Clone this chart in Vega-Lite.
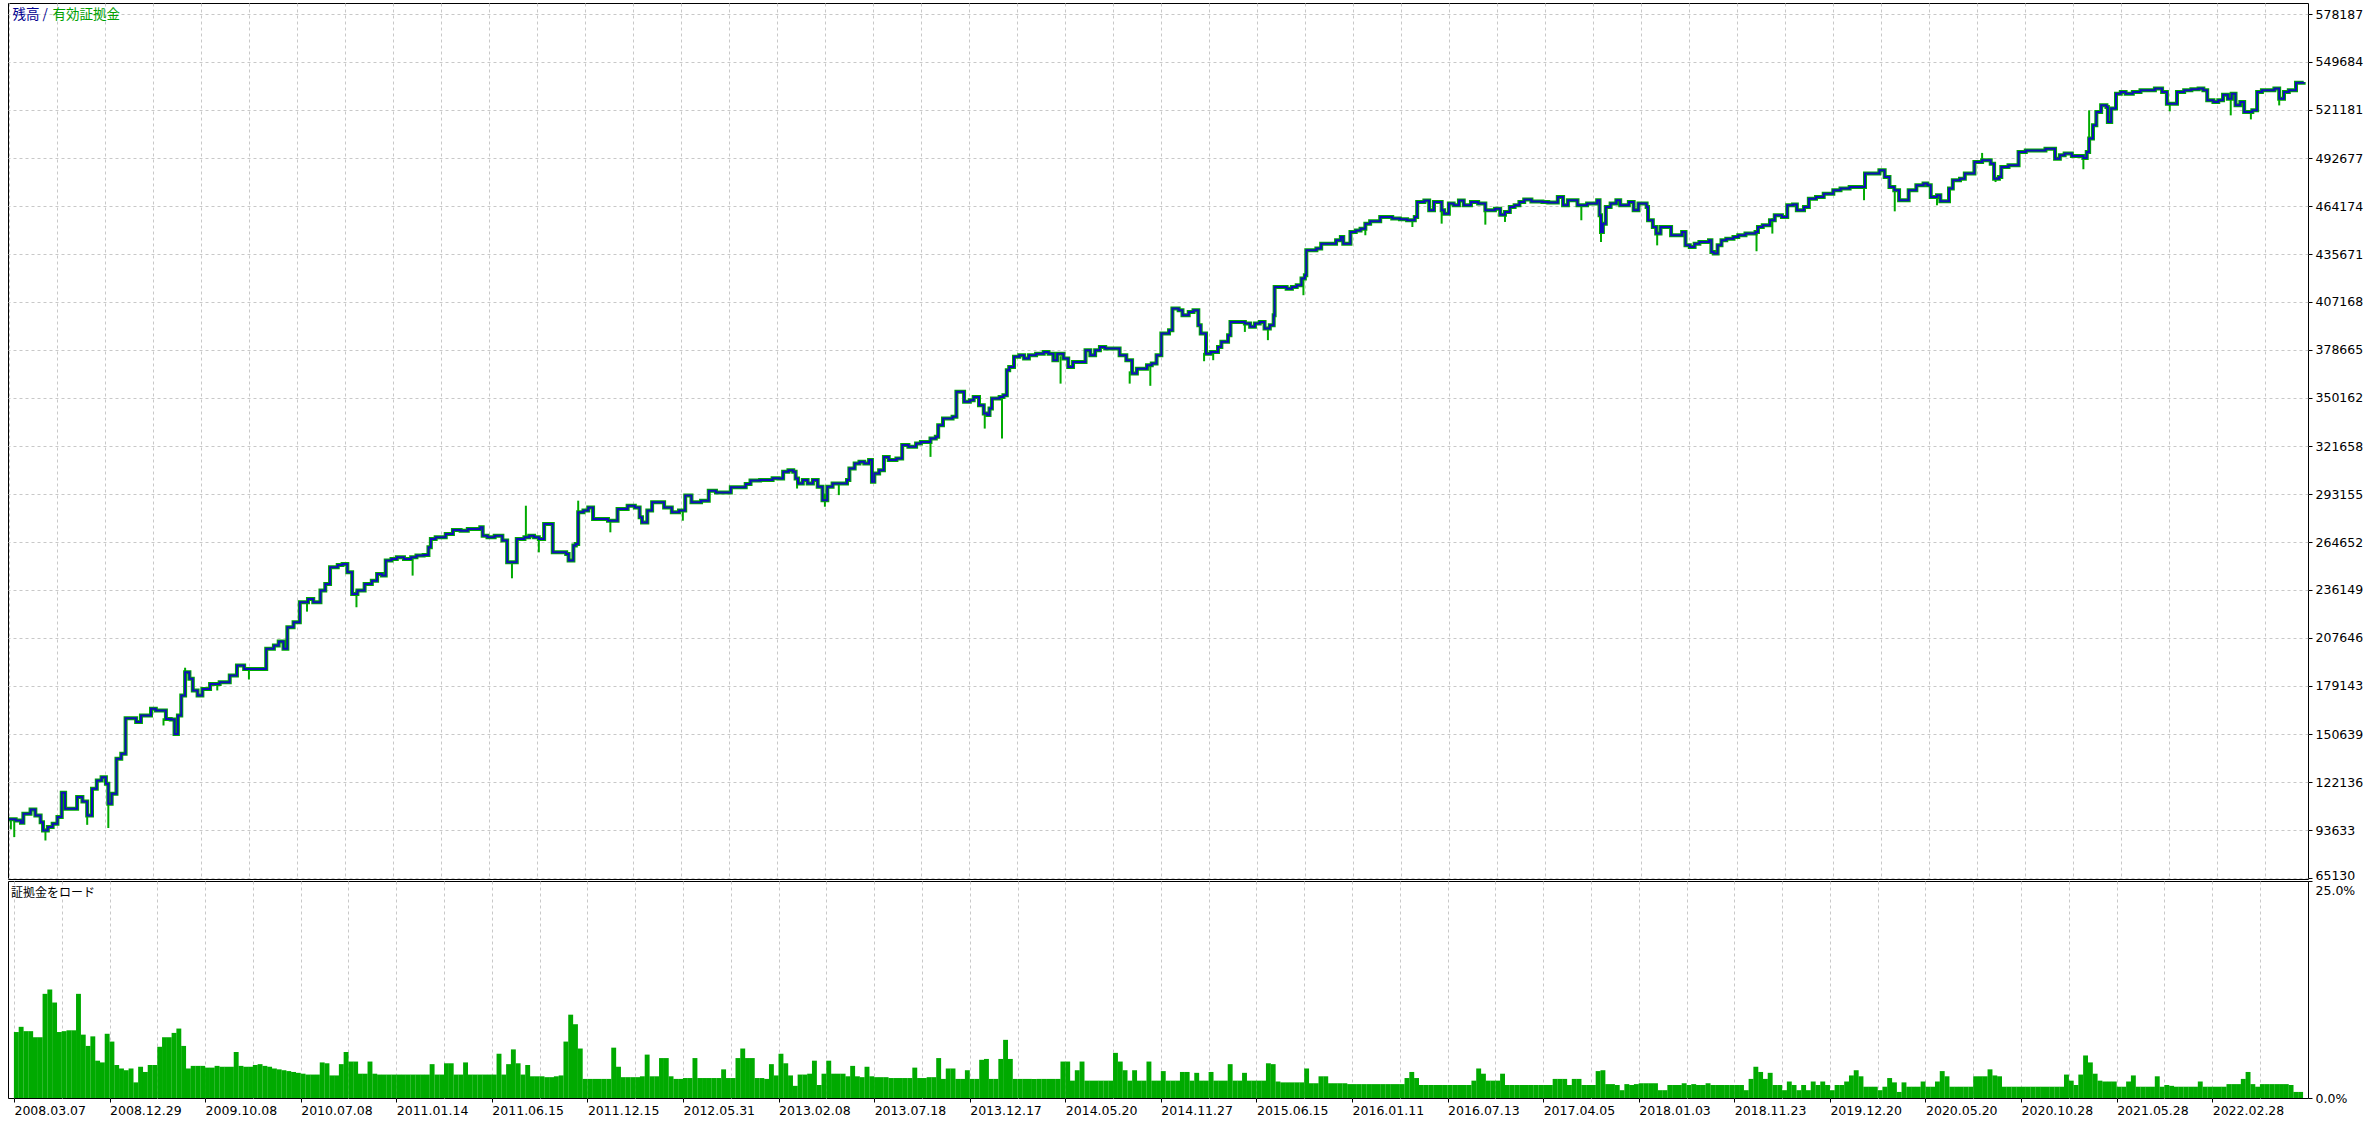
{
"$schema": "https://vega.github.io/schema/vega-lite/v6.json",
"background": "white",
"padding": {"left": 0, "top": 2, "right": 0, "bottom": 0},
"config": {"view": {"stroke": "black", "strokeWidth": 1}, "axis": {"labelFont": "DejaVu Sans", "labelFontSize": 12.5, "labelColor": "black"}},
"datasets": {
"bal": [
{"i":0,"v":100000},{"i":1.4,"v":99300},{"i":2.5,"v":97900},{"i":3.0,"v":103300},{"i":4.5,"v":105800},{"i":5.5,"v":102300},{"i":6.6,"v":98300},{"i":7.1,"v":93400},{"i":8.1,"v":95400},{"i":9.1,"v":97300},{"i":10.1,"v":101300},{"i":11.0,"v":115700},{"i":11.7,"v":106200},{"i":14.2,"v":113200},{"i":15.3,"v":110600},{"i":16.3,"v":102300},{"i":17.3,"v":118100},{"i":18.3,"v":123000},{"i":19.3,"v":125000},{"i":20.2,"v":121100},{"i":20.7,"v":109200},{"i":21.4,"v":115100},{"i":22.4,"v":135900},{"i":23.4,"v":138900},{"i":24.3,"v":160000},{"i":25.5,"v":160000},{"i":26.5,"v":157700},{"i":27.5,"v":161600},{"i":29.6,"v":165600},{"i":30.6,"v":164600},{"i":32.7,"v":159600},{"i":33.7,"v":159200},{"i":34.5,"v":150700},{"i":35.2,"v":161600},{"i":35.9,"v":173500},{"i":36.7,"v":187300},{"i":37.6,"v":183400},{"i":38.3,"v":176500},{"i":39.3,"v":173500},{"i":40.3,"v":177400},{"i":41.9,"v":180400},{"i":43.9,"v":181400},{"i":46.0,"v":185400},{"i":47.5,"v":191300},{"i":49.0,"v":189300},{"i":52.9,"v":189300},{"i":53.6,"v":201200},{"i":55.2,"v":203200},{"i":56.2,"v":205500},{"i":57.2,"v":201200},{"i":58.0,"v":214000},{"i":59.3,"v":217000},{"i":60.6,"v":228900},{"i":62.3,"v":230800},{"i":63.4,"v":228900},{"i":64.9,"v":235800},{"i":65.9,"v":239700},{"i":66.9,"v":249600},{"i":68.5,"v":251000},{"i":69.5,"v":251600},{"i":70.5,"v":246700},{"i":71.5,"v":233800},{"i":72.6,"v":235800},{"i":74.1,"v":239700},{"i":75.6,"v":241700},{"i":76.7,"v":245700},{"i":77.7,"v":244700},{"i":78.5,"v":253600},{"i":79.7,"v":254600},{"i":80.8,"v":255600},{"i":82.3,"v":254600},{"i":83.8,"v":255600},{"i":84.9,"v":256600},{"i":86.4,"v":257000},{"i":87.4,"v":261500},{"i":87.9,"v":266500},{"i":88.9,"v":267400},{"i":91.0,"v":269400},{"i":92.5,"v":271800},{"i":94.1,"v":271400},{"i":95.6,"v":272400},{"i":98.2,"v":273400},{"i":98.7,"v":268400},{"i":99.7,"v":267400},{"i":101.2,"v":268400},{"i":102.8,"v":265500},{"i":103.8,"v":252600},{"i":104.8,"v":252600},{"i":105.8,"v":266500},{"i":107.4,"v":267400},{"i":108.4,"v":268400},{"i":109.4,"v":267400},{"i":110.4,"v":266500},{"i":111.5,"v":275400},{"i":112.5,"v":275400},{"i":113.3,"v":258500},{"i":114.5,"v":258500},{"i":116.1,"v":257500},{"i":116.6,"v":253600},{"i":117.6,"v":262500},{"i":118.1,"v":263500},{"i":118.6,"v":282300},{"i":119.7,"v":283300},{"i":120.7,"v":285200},{"i":121.7,"v":278300},{"i":123.2,"v":278300},{"i":124.8,"v":277300},{"i":126.8,"v":284300},{"i":128.9,"v":286200},{"i":130.4,"v":285200},{"i":131.4,"v":279300},{"i":131.9,"v":276300},{"i":133.0,"v":283300},{"i":134.0,"v":288200},{"i":135.5,"v":288200},{"i":136.5,"v":285200},{"i":138.1,"v":282300},{"i":139.6,"v":283300},{"i":140.9,"v":292200},{"i":142.2,"v":288200},{"i":144.2,"v":289200},{"i":145.8,"v":295100},{"i":147.3,"v":294100},{"i":149.3,"v":294100},{"i":150.4,"v":297100},{"i":152.4,"v":297100},{"i":153.5,"v":299100},{"i":154.5,"v":301100},{"i":156.5,"v":301500},{"i":159.1,"v":302500},
{"i":160.3,"v":302400},{"i":161.3,"v":306300},{"i":162.4,"v":307300},{"i":163.4,"v":306300},{"i":163.9,"v":302400},{"i":164.4,"v":299400},{"i":165.4,"v":301400},{"i":166.4,"v":299400},{"i":167.5,"v":301400},{"i":168.5,"v":297400},{"i":169.5,"v":289500},{"i":170.5,"v":297400},{"i":171.6,"v":299400},{"i":173.6,"v":299400},{"i":174.6,"v":301400},{"i":175.1,"v":308300},{"i":176.2,"v":311300},{"i":177.2,"v":312300},{"i":178.2,"v":311300},{"i":179.2,"v":313300},{"i":179.8,"v":300400},{"i":180.3,"v":305300},{"i":181.3,"v":307300},{"i":182.3,"v":315200},{"i":183.3,"v":313300},{"i":184.9,"v":314200},{"i":186.1,"v":322200},{"i":187.4,"v":321200},{"i":189.0,"v":323100},{"i":190.0,"v":324100},{"i":192.0,"v":326100},{"i":193.1,"v":327100},{"i":193.6,"v":334000},{"i":194.6,"v":338000},{"i":196.6,"v":339000},{"i":197.4,"v":353800},{"i":198.2,"v":353800},{"i":199.0,"v":347900},{"i":200.2,"v":348900},{"i":201.0,"v":350800},{"i":202.1,"v":345900},{"i":203.1,"v":340900},{"i":203.8,"v":340000},{"i":204.3,"v":343900},{"i":204.8,"v":349800},{"i":206.4,"v":350800},{"i":207.2,"v":351800},{"i":207.9,"v":366700},{"i":208.4,"v":368600},{"i":209.4,"v":374600},{"i":210.5,"v":375600},{"i":211.5,"v":373600},{"i":212.5,"v":375600},{"i":214.0,"v":376500},{"i":215.6,"v":377500},{"i":216.6,"v":376500},{"i":217.6,"v":372600},{"i":218.4,"v":376500},{"i":219.7,"v":373600},{"i":220.7,"v":368600},{"i":221.7,"v":371600},{"i":223.3,"v":371600},{"i":224.3,"v":378500},{"i":225.3,"v":375600},{"i":226.3,"v":378500},{"i":227.3,"v":380500},{"i":228.4,"v":379500},{"i":230.4,"v":379500},{"i":231.4,"v":375600},{"i":232.8,"v":372600},{"i":234.0,"v":364700},{"i":235.0,"v":367600},{"i":237.1,"v":369600},{"i":238.1,"v":370600},{"i":239.1,"v":375600},{"i":240.1,"v":388400},{"i":241.7,"v":390400},{"i":242.4,"v":403300},{"i":243.7,"v":402300},{"i":244.5,"v":399300},{"i":245.8,"v":401300},{"i":246.8,"v":402300},{"i":247.8,"v":393400},{"i":248.3,"v":388400},{"i":249.4,"v":376500},{"i":250.4,"v":377500},{"i":251.9,"v":380500},{"i":252.6,"v":383500},{"i":254.0,"v":387400},{"i":254.5,"v":395300},{"i":257.0,"v":395300},{"i":257.5,"v":394400},{"i":258.6,"v":392400},{"i":259.6,"v":394400},{"i":260.6,"v":395300},{"i":261.6,"v":391400},{"i":262.7,"v":393400},{"i":263.5,"v":399300},{"i":263.7,"v":416100},{"i":265.2,"v":416100},{"i":266.2,"v":415100},{"i":267.3,"v":416100},{"i":268.3,"v":417100},{"i":269.3,"v":421100},{"i":270.0,"v":423000},{"i":270.3,"v":437900},{"i":271.4,"v":437900},{"i":272.4,"v":438900},{"i":273.4,"v":441800},{"i":275.4,"v":441800},{"i":276.5,"v":443800},{"i":277.5,"v":445800},{"i":278.0,"v":441800},{"i":279.0,"v":441800},{"i":279.5,"v":448700},{"i":280.6,"v":449700},{"i":281.6,"v":450700},{"i":282.6,"v":453700},{"i":283.6,"v":455100},{"i":285.7,"v":457600},{"i":287.2,"v":457600},{"i":288.2,"v":456700},{"i":289.8,"v":456300},{"i":291.3,"v":455700},{"i":292.9,"v":457600},{"i":293.4,"v":466500},{"i":294.9,"v":467500},{"i":295.9,"v":461600},{"i":296.9,"v":466500},{"i":297.9,"v":466500},{"i":298.5,"v":461600},{"i":299.0,"v":459600},{"i":300.0,"v":465600},{"i":301.0,"v":464600},{"i":302.1,"v":467500},{"i":303.1,"v":464600},{"i":304.6,"v":466500},{"i":306.1,"v":465600},{"i":307.6,"v":461600},{"i":308.6,"v":461600},{"i":309.6,"v":462600},{"i":310.7,"v":459000},{"i":311.7,"v":460600},{"i":312.7,"v":463600},{"i":313.7,"v":464600},{"i":314.7,"v":466500},{"i":315.7,"v":468100},{"i":317.2,"v":466900},{"i":319.5,"v":466500},
{"i":320.7,"v":466200},{"i":322.7,"v":469500},{"i":323.8,"v":464600},{"i":324.8,"v":467600},{"i":326.8,"v":464600},{"i":328.8,"v":465600},{"i":330.9,"v":467600},{"i":331.4,"v":458700},{"i":331.7,"v":448800},{"i":332.1,"v":453700},{"i":332.7,"v":463600},{"i":333.7,"v":465600},{"i":334.9,"v":467600},{"i":335.7,"v":464600},{"i":337.5,"v":466600},{"i":338.5,"v":461600},{"i":339.5,"v":465600},{"i":341.2,"v":463600},{"i":341.5,"v":455700},{"i":342.5,"v":451700},{"i":343.2,"v":447800},{"i":344.1,"v":451700},{"i":345.6,"v":451700},{"i":346.3,"v":446800},{"i":347.6,"v":446800},{"i":348.6,"v":448800},{"i":349.3,"v":440800},{"i":350.2,"v":439800},{"i":351.2,"v":441800},{"i":352.2,"v":442800},{"i":354.2,"v":443800},{"i":354.7,"v":436900},{"i":355.2,"v":435900},{"i":356.0,"v":440800},{"i":356.8,"v":443800},{"i":357.8,"v":444800},{"i":359.3,"v":445800},{"i":360.3,"v":446800},{"i":361.8,"v":447800},{"i":363.9,"v":448800},{"i":364.4,"v":451700},{"i":365.4,"v":452700},{"i":366.9,"v":455700},{"i":367.9,"v":458700},{"i":369.4,"v":457700},{"i":370.5,"v":464600},{"i":371.7,"v":465000},{"i":372.5,"v":461600},{"i":374.0,"v":463600},{"i":375.0,"v":468500},{"i":376.5,"v":469500},{"i":378.1,"v":471500},{"i":380.1,"v":473500},{"i":381.6,"v":474500},{"i":383.5,"v":475500},{"i":385.7,"v":475500},{"i":386.7,"v":483400},{"i":388.2,"v":483400},{"i":389.7,"v":485400},{"i":390.8,"v":481400},{"i":391.8,"v":475500},{"i":392.8,"v":473500},{"i":393.8,"v":467600},{"i":394.8,"v":467600},{"i":395.8,"v":473500},{"i":397.4,"v":476500},{"i":398.9,"v":477500},{"i":399.7,"v":476500},{"i":400.4,"v":469500},{"i":401.7,"v":470500},{"i":402.4,"v":467000},{"i":403.5,"v":467000},{"i":404.2,"v":474500},{"i":405.0,"v":479400},{"i":406.5,"v":480400},{"i":407.5,"v":483400},{"i":408.5,"v":483400},{"i":409.5,"v":490300},{"i":411.1,"v":491300},{"i":412.9,"v":489300},{"i":413.6,"v":480400},{"i":414.6,"v":481400},{"i":415.1,"v":487300},{"i":416.6,"v":488300},{"i":417.7,"v":488300},{"i":418.7,"v":496300},{"i":420.2,"v":497200},{"i":422.2,"v":497200},{"i":424.3,"v":498200},{"i":425.3,"v":498200},{"i":426.3,"v":492300},{"i":427.3,"v":494300},{"i":428.3,"v":495300},{"i":429.8,"v":493900},{"i":432.2,"v":492700},{"i":432.9,"v":496300},{"i":433.4,"v":504200},{"i":434.2,"v":512100},{"i":434.9,"v":520000},{"i":435.9,"v":524000},{"i":437.0,"v":523000},{"i":437.3,"v":514100},{"i":438.0,"v":522000},{"i":439.0,"v":530900},{"i":440.0,"v":531900},{"i":441.0,"v":530900},{"i":442.5,"v":531900},{"i":444.1,"v":532900},{"i":445.6,"v":532900},{"i":447.1,"v":533900},{"i":448.6,"v":531900},{"i":449.6,"v":524900},{"i":451.2,"v":524900},{"i":451.7,"v":531900},{"i":453.2,"v":532900},{"i":454.7,"v":533500},{"i":456.2,"v":533900},{"i":457.2,"v":532900},{"i":458.0,"v":526900},{"i":459.3,"v":525900},{"i":460.3,"v":526900},{"i":461.3,"v":530300},{"i":462.3,"v":527900},{"i":463.1,"v":530900},{"i":463.9,"v":524000},{"i":464.9,"v":525900},{"i":465.7,"v":520000},{"i":466.4,"v":520000},{"i":467.4,"v":521000},{"i":468.4,"v":531900},{"i":469.4,"v":532900},{"i":471.0,"v":532900},{"i":472.0,"v":533900},{"i":473.0,"v":527900},{"i":474.0,"v":531900},{"i":475.0,"v":532900},{"i":476.5,"v":537400},{"i":478.1,"v":537800}
],
"spk": [
{"i":0.4,"e":94000,"b":100000},{"i":1.1,"e":89400,"b":99800},{"i":7.6,"e":87400,"b":94400},{"i":16.3,"e":96700,"b":102300},{"i":20.7,"e":94800,"b":109200},{"i":32.2,"e":155700,"b":160000},{"i":36.7,"e":190000,"b":187300},{"i":43.4,"e":176500,"b":181400},{"i":50.0,"e":183000,"b":189300},{"i":62.1,"e":223300,"b":230800},{"i":72.4,"e":225900,"b":235800},{"i":84.1,"e":244700,"b":255600},{"i":104.8,"e":243100,"b":252600},{"i":107.7,"e":286200,"b":267400},{"i":110.4,"e":258500,"b":266500},{"i":118.6,"e":289200,"b":282300},{"i":125.3,"e":270400,"b":277300},{"i":140.4,"e":277300,"b":283300},{"i":164.2,"e":296400,"b":302400},{"i":170.0,"e":285600,"b":293400},{"i":172.9,"e":292500,"b":299400},{"i":192.0,"e":315200,"b":326100},{"i":203.3,"e":332000,"b":340900},{"i":206.9,"e":326100,"b":351300},{"i":219.1,"e":358700,"b":375000},{"i":233.5,"e":358700,"b":366000},{"i":237.8,"e":357400,"b":370600},{"i":249.0,"e":372000,"b":377000},{"i":250.9,"e":372600,"b":378000},{"i":257.5,"e":389400,"b":394400},{"i":262.3,"e":384500,"b":392400},{"i":269.7,"e":411200,"b":422000},{"i":282.6,"e":446800,"b":453700},{"i":292.4,"e":451700,"b":456500},{"i":298.5,"e":453700,"b":461600},{"i":307.6,"e":453100,"b":461600},{"i":311.7,"e":454700,"b":460600},{"i":327.6,"e":455700,"b":465000},{"i":331.7,"e":442800,"b":448800},{"i":343.4,"e":440800,"b":449000},{"i":364.1,"e":437300,"b":449000},{"i":367.4,"e":447800,"b":457000},{"i":386.5,"e":467600,"b":479000},{"i":392.9,"e":461000,"b":473500},{"i":401.7,"e":464600,"b":470500},{"i":411.1,"e":495700,"b":491300},{"i":413.9,"e":478400,"b":481000},{"i":432.2,"e":486000,"b":492700},{"i":433.4,"e":521000,"b":504200},{"i":450.2,"e":520400,"b":524900},{"i":462.9,"e":518000,"b":529000},{"i":467.1,"e":515600,"b":521000},{"i":473.0,"e":523900,"b":527900}
],
"mrg": [
{"i":0,"m":7.6},{"i":1,"m":8.2},{"i":2,"m":7.7},{"i":3,"m":7.7},{"i":4,"m":7.0},{"i":5,"m":7.0},{"i":6,"m":12.0},{"i":7,"m":12.5},{"i":8,"m":11.0},{"i":9,"m":7.6},
{"i":10,"m":7.7},{"i":11,"m":7.8},{"i":12,"m":7.8},{"i":13,"m":12.0},{"i":14,"m":7.3},{"i":15,"m":6.0},{"i":16,"m":7.1},{"i":17,"m":4.3},{"i":18,"m":4.1},{"i":19,"m":7.4},
{"i":20,"m":6.5},{"i":21,"m":3.8},{"i":22,"m":3.4},{"i":23,"m":3.2},{"i":24,"m":3.4},{"i":25,"m":1.8},{"i":26,"m":3.6},{"i":27,"m":3.0},{"i":28,"m":3.8},{"i":29,"m":3.8},
{"i":30,"m":5.9},{"i":31,"m":7.0},{"i":32,"m":7.0},{"i":33,"m":7.5},{"i":34,"m":8.0},{"i":35,"m":6.0},{"i":36,"m":3.4},{"i":37,"m":3.7},{"i":38,"m":3.7},{"i":39,"m":3.7},
{"i":40,"m":3.5},{"i":41,"m":3.5},{"i":42,"m":3.7},{"i":43,"m":3.6},{"i":44,"m":3.6},{"i":45,"m":3.6},{"i":46,"m":5.3},{"i":47,"m":3.7},{"i":48,"m":3.6},{"i":49,"m":3.6},
{"i":50,"m":3.8},{"i":51,"m":3.9},{"i":52,"m":3.7},{"i":53,"m":3.6},{"i":54,"m":3.4},{"i":55,"m":3.3},{"i":56,"m":3.2},{"i":57,"m":3.1},{"i":58,"m":3.0},{"i":59,"m":2.9},
{"i":60,"m":2.8},{"i":61,"m":2.7},{"i":62,"m":2.7},{"i":63,"m":2.7},{"i":64,"m":4.1},{"i":65,"m":4.0},{"i":66,"m":2.6},{"i":67,"m":2.6},{"i":68,"m":3.9},{"i":69,"m":5.3},
{"i":70,"m":4.2},{"i":71,"m":4.2},{"i":72,"m":2.8},{"i":73,"m":2.8},{"i":74,"m":4.2},{"i":75,"m":2.8},{"i":76,"m":2.7},{"i":77,"m":2.7},{"i":78,"m":2.7},{"i":79,"m":2.7},
{"i":80,"m":2.7},{"i":81,"m":2.7},{"i":82,"m":2.7},{"i":83,"m":2.7},{"i":84,"m":2.7},{"i":85,"m":2.7},{"i":86,"m":2.7},{"i":87,"m":3.9},{"i":88,"m":2.7},{"i":89,"m":2.7},
{"i":90,"m":4.0},{"i":91,"m":4.0},{"i":92,"m":2.7},{"i":93,"m":2.7},{"i":94,"m":4.1},{"i":95,"m":2.7},{"i":96,"m":2.7},{"i":97,"m":2.7},{"i":98,"m":2.7},{"i":99,"m":2.7},
{"i":100,"m":2.7},{"i":101,"m":5.1},{"i":102,"m":2.7},{"i":103,"m":3.9},{"i":104,"m":5.6},{"i":105,"m":4.0},{"i":106,"m":2.7},{"i":107,"m":3.8},{"i":108,"m":2.5},{"i":109,"m":2.5},
{"i":110,"m":2.5},{"i":111,"m":2.4},{"i":112,"m":2.4},{"i":113,"m":2.5},{"i":114,"m":2.6},{"i":115,"m":6.5},{"i":116,"m":9.6},{"i":117,"m":8.5},{"i":118,"m":5.7},{"i":119,"m":2.2},
{"i":120,"m":2.2},{"i":121,"m":2.2},{"i":122,"m":2.2},{"i":123,"m":2.2},{"i":124,"m":2.2},{"i":125,"m":5.8},{"i":126,"m":3.6},{"i":127,"m":2.4},{"i":128,"m":2.4},{"i":129,"m":2.4},
{"i":130,"m":2.4},{"i":131,"m":2.5},{"i":132,"m":5.0},{"i":133,"m":2.5},{"i":134,"m":2.5},{"i":135,"m":4.6},{"i":136,"m":4.6},{"i":137,"m":2.5},{"i":138,"m":2.2},{"i":139,"m":2.2},
{"i":140,"m":2.3},{"i":141,"m":2.3},{"i":142,"m":4.6},{"i":143,"m":2.3},{"i":144,"m":2.3},{"i":145,"m":2.3},{"i":146,"m":2.3},{"i":147,"m":2.3},{"i":148,"m":3.3},{"i":149,"m":2.3},
{"i":150,"m":2.3},{"i":151,"m":4.6},{"i":152,"m":5.7},{"i":153,"m":4.6},{"i":154,"m":4.6},{"i":155,"m":2.3},{"i":156,"m":2.3},{"i":157,"m":2.2},{"i":158,"m":3.9},{"i":159,"m":2.6},
{"i":160,"m":5.1},{"i":161,"m":4.0},{"i":162,"m":2.6},{"i":163,"m":1.4},{"i":164,"m":2.7},{"i":165,"m":2.7},{"i":166,"m":2.8},{"i":167,"m":4.3},{"i":168,"m":1.5},{"i":169,"m":2.8},
{"i":170,"m":4.3},{"i":171,"m":2.8},{"i":172,"m":2.8},{"i":173,"m":2.8},{"i":174,"m":2.5},{"i":175,"m":3.7},{"i":176,"m":2.5},{"i":177,"m":2.4},{"i":178,"m":3.6},{"i":179,"m":2.5},
{"i":180,"m":2.4},{"i":181,"m":2.4},{"i":182,"m":2.4},{"i":183,"m":2.3},{"i":184,"m":2.3},{"i":185,"m":2.3},{"i":186,"m":2.3},{"i":187,"m":2.3},{"i":188,"m":3.5},{"i":189,"m":2.3},
{"i":190,"m":2.3},{"i":191,"m":2.4},{"i":192,"m":2.4},{"i":193,"m":4.6},{"i":194,"m":2.2},{"i":195,"m":3.4},{"i":196,"m":3.4},{"i":197,"m":2.2},{"i":198,"m":2.2},{"i":199,"m":3.2},
{"i":200,"m":2.2},{"i":201,"m":2.2},{"i":202,"m":4.4},{"i":203,"m":4.5},{"i":204,"m":2.2},{"i":205,"m":2.2},{"i":206,"m":4.5},{"i":207,"m":6.7},{"i":208,"m":4.5},{"i":209,"m":2.2},
{"i":210,"m":2.2},{"i":211,"m":2.2},{"i":212,"m":2.2},{"i":213,"m":2.2},{"i":214,"m":2.2},{"i":215,"m":2.2},{"i":216,"m":2.2},{"i":217,"m":2.2},{"i":218,"m":2.2},{"i":219,"m":4.2},
{"i":220,"m":4.2},{"i":221,"m":2.0},{"i":222,"m":3.2},{"i":223,"m":4.2},{"i":224,"m":2.0},{"i":225,"m":2.0},{"i":226,"m":2.0},{"i":227,"m":2.0},{"i":228,"m":2.0},{"i":229,"m":2.0},
{"i":230,"m":5.2},{"i":231,"m":4.2},{"i":232,"m":3.2},{"i":233,"m":2.0},{"i":234,"m":3.2},{"i":235,"m":2.0},{"i":236,"m":2.0},{"i":237,"m":4.2},{"i":238,"m":2.0},{"i":239,"m":2.0},
{"i":240,"m":3.1},{"i":241,"m":2.0},{"i":242,"m":2.0},{"i":243,"m":2.0},{"i":244,"m":3.0},{"i":245,"m":3.0},{"i":246,"m":2.0},{"i":247,"m":2.9},{"i":248,"m":2.0},{"i":249,"m":2.0},
{"i":250,"m":3.0},{"i":251,"m":2.0},{"i":252,"m":2.0},{"i":253,"m":2.0},{"i":254,"m":3.9},{"i":255,"m":2.0},{"i":256,"m":2.0},{"i":257,"m":2.9},{"i":258,"m":2.0},{"i":259,"m":2.0},
{"i":260,"m":2.0},{"i":261,"m":2.0},{"i":262,"m":4.0},{"i":263,"m":3.9},{"i":264,"m":1.9},{"i":265,"m":1.8},{"i":266,"m":1.8},{"i":267,"m":1.8},{"i":268,"m":1.8},{"i":269,"m":1.8},
{"i":270,"m":3.4},{"i":271,"m":1.7},{"i":272,"m":1.7},{"i":273,"m":2.5},{"i":274,"m":2.5},{"i":275,"m":1.7},{"i":276,"m":1.7},{"i":277,"m":1.7},{"i":278,"m":1.7},{"i":279,"m":1.6},
{"i":280,"m":1.6},{"i":281,"m":1.6},{"i":282,"m":1.6},{"i":283,"m":1.6},{"i":284,"m":1.6},{"i":285,"m":1.6},{"i":286,"m":1.6},{"i":287,"m":1.6},{"i":288,"m":1.6},{"i":289,"m":1.6},
{"i":290,"m":1.6},{"i":291,"m":2.3},{"i":292,"m":3.0},{"i":293,"m":2.3},{"i":294,"m":1.5},{"i":295,"m":1.5},{"i":296,"m":1.5},{"i":297,"m":1.5},{"i":298,"m":1.5},{"i":299,"m":1.5},
{"i":300,"m":1.5},{"i":301,"m":1.5},{"i":302,"m":1.5},{"i":303,"m":1.5},{"i":304,"m":1.5},{"i":305,"m":2.0},{"i":306,"m":3.4},{"i":307,"m":2.8},{"i":308,"m":2.0},{"i":309,"m":2.0},
{"i":310,"m":2.0},{"i":311,"m":2.8},{"i":312,"m":1.5},{"i":313,"m":1.5},{"i":314,"m":1.5},{"i":315,"m":1.5},{"i":316,"m":1.5},{"i":317,"m":1.5},{"i":318,"m":1.5},{"i":319,"m":1.5},
{"i":320,"m":1.5},{"i":321,"m":1.5},{"i":322,"m":2.2},{"i":323,"m":2.2},{"i":324,"m":2.2},{"i":325,"m":1.5},{"i":326,"m":2.2},{"i":327,"m":2.2},{"i":328,"m":1.5},{"i":329,"m":1.5},
{"i":330,"m":1.5},{"i":331,"m":3.1},{"i":332,"m":3.2},{"i":333,"m":1.6},{"i":334,"m":1.6},{"i":335,"m":1.5},{"i":336,"m":0.9},{"i":337,"m":1.6},{"i":338,"m":1.5},{"i":339,"m":1.6},
{"i":340,"m":1.7},{"i":341,"m":1.7},{"i":342,"m":1.7},{"i":343,"m":1.7},{"i":344,"m":0.9},{"i":345,"m":0.9},{"i":346,"m":1.5},{"i":347,"m":1.5},{"i":348,"m":1.5},{"i":349,"m":1.7},
{"i":350,"m":1.5},{"i":351,"m":1.6},{"i":352,"m":1.5},{"i":353,"m":1.5},{"i":354,"m":1.7},{"i":355,"m":1.5},{"i":356,"m":1.5},{"i":357,"m":1.5},{"i":358,"m":1.5},{"i":359,"m":1.5},
{"i":360,"m":1.5},{"i":361,"m":1.5},{"i":362,"m":0.9},{"i":363,"m":2.2},{"i":364,"m":3.6},{"i":365,"m":3.0},{"i":366,"m":2.2},{"i":367,"m":2.9},{"i":368,"m":1.5},{"i":369,"m":1.5},
{"i":370,"m":0.9},{"i":371,"m":1.9},{"i":372,"m":1.5},{"i":373,"m":0.9},{"i":374,"m":1.5},{"i":375,"m":0.9},{"i":376,"m":1.9},{"i":377,"m":1.5},{"i":378,"m":1.9},{"i":379,"m":1.5},
{"i":380,"m":0.9},{"i":381,"m":1.5},{"i":382,"m":1.5},{"i":383,"m":1.9},{"i":384,"m":2.6},{"i":385,"m":3.2},{"i":386,"m":2.5},{"i":387,"m":1.3},{"i":388,"m":1.3},{"i":389,"m":1.3},
{"i":390,"m":0.9},{"i":391,"m":1.3},{"i":392,"m":2.3},{"i":393,"m":1.8},{"i":394,"m":0.7},{"i":395,"m":1.8},{"i":396,"m":1.3},{"i":397,"m":1.3},{"i":398,"m":1.3},{"i":399,"m":1.9},
{"i":400,"m":1.3},{"i":401,"m":1.3},{"i":402,"m":1.9},{"i":403,"m":3.1},{"i":404,"m":2.5},{"i":405,"m":1.3},{"i":406,"m":1.3},{"i":407,"m":1.3},{"i":408,"m":1.3},{"i":409,"m":1.3},
{"i":410,"m":2.5},{"i":411,"m":2.5},{"i":412,"m":2.5},{"i":413,"m":3.3},{"i":414,"m":2.6},{"i":415,"m":2.5},{"i":416,"m":1.3},{"i":417,"m":1.3},{"i":418,"m":1.3},{"i":419,"m":1.3},
{"i":420,"m":1.3},{"i":421,"m":1.3},{"i":422,"m":1.3},{"i":423,"m":1.3},{"i":424,"m":1.3},{"i":425,"m":1.3},{"i":426,"m":1.3},{"i":427,"m":1.3},{"i":428,"m":1.3},{"i":429,"m":2.7},
{"i":430,"m":2.0},{"i":431,"m":1.5},{"i":432,"m":2.7},{"i":433,"m":4.9},{"i":434,"m":4.1},{"i":435,"m":2.8},{"i":436,"m":2.0},{"i":437,"m":1.9},{"i":438,"m":1.9},{"i":439,"m":1.9},
{"i":440,"m":1.3},{"i":441,"m":1.3},{"i":442,"m":1.9},{"i":443,"m":2.6},{"i":444,"m":1.3},{"i":445,"m":1.3},{"i":446,"m":1.3},{"i":447,"m":1.3},{"i":448,"m":2.5},{"i":449,"m":1.3},
{"i":450,"m":1.5},{"i":451,"m":1.4},{"i":452,"m":1.3},{"i":453,"m":1.3},{"i":454,"m":1.3},{"i":455,"m":1.3},{"i":456,"m":1.3},{"i":457,"m":1.9},{"i":458,"m":1.3},{"i":459,"m":1.3},
{"i":460,"m":1.3},{"i":461,"m":1.3},{"i":462,"m":1.3},{"i":463,"m":1.6},{"i":464,"m":1.6},{"i":465,"m":1.6},{"i":466,"m":2.2},{"i":467,"m":3.0},{"i":468,"m":1.6},{"i":469,"m":1.3},
{"i":470,"m":1.6},{"i":471,"m":1.6},{"i":472,"m":1.6},{"i":473,"m":1.6},{"i":474,"m":1.6},{"i":475,"m":1.6},{"i":476,"m":1.5},{"i":477,"m":0.7},{"i":478,"m":0.7}
]
},
"vconcat": [
{
"width": 2300, "height": 876,
"layer": [
{"data": {"name": "bal"}, "mark": {"type": "line", "strokeWidth": 4, "interpolate": "step-after"},
 "encoding": {
  "x": {"field": "i", "type": "quantitative", "scale": {"domain": [-0.2, 479], "nice": false, "zero": false},
        "axis": {"values": [0,10,20,30,40,50,60,70,80,90,100,110,120,130,140,150,160,170,180,190,200,210,220,230,240,250,260,270,280,290,300,310,320,330,340,350,360,370,380,390,400,410,420,430,440,450,460,470], "grid": true, "gridColor": "#c8c8c8", "gridDash": [3,3], "labels": false, "ticks": false, "domain": false, "title": null}},
  "y": {"field": "v", "type": "quantitative", "scale": {"domain": [64536, 584719], "nice": false, "zero": false},
        "axis": {"orient": "right", "values": [65130,93633,122136,150639,179143,207646,236149,264652,293155,321658,350162,378665,407168,435671,464174,492677,521181,549684,578187], "format": "d", "grid": true, "gridColor": "#c8c8c8", "gridDash": [3,3], "domain": false, "ticks": true, "tickSize": 4, "tickColor": "black", "labelPadding": 3, "title": null, "labelOffset": {"condition": {"test": "datum.value < 70000", "value": -2}, "value": 0}}},
  "color": {"datum": "有効証拠金", "type": "nominal", "scale": {"domain": ["残高", "有効証拠金"], "range": ["#1010B8", "#00AA00"]},
        "legend": {"orient": "top-left", "direction": "horizontal", "title": null, "offset": 5, "padding": 0, "symbolSize": 0, "symbolStrokeWidth": 0, "symbolOpacity": 0, "labelOffset": -14, "columnPadding": 4, "labelFont": "Noto Sans CJK JP", "labelFontSize": 13.5, "labelExpr": "datum.value == '残高' ? '残高 /' : datum.label", "encode": {"labels": {"update": {"fill": {"signal": "datum.value == '残高' ? '#000090' : '#00A000'"}}}}}}
 }},
{"data": {"name": "spk"}, "mark": {"type": "rule", "strokeWidth": 2},
 "encoding": {"x": {"field": "i", "type": "quantitative"}, "y": {"field": "e", "type": "quantitative"}, "y2": {"field": "b"}, "color": {"datum": "有効証拠金", "type": "nominal"}}},
{"data": {"name": "bal"}, "mark": {"type": "line", "strokeWidth": 2, "interpolate": "step-after"},
 "encoding": {"x": {"field": "i", "type": "quantitative"}, "y": {"field": "v", "type": "quantitative"}, "color": {"datum": "残高", "type": "nominal"}}}
]
},
{
"width": 2300, "height": 217,
"title": {"text": "証拠金をロード", "anchor": "start", "orient": "top", "offset": -19, "dx": 3, "font": "Noto Sans CJK JP", "fontSize": 12, "fontWeight": "normal", "color": "black"},
"data": {"name": "mrg"},
"mark": {"type": "bar", "color": "#00AA00", "size": 4.9, "xOffset": 2.4},
"encoding": {
 "x": {"field": "i", "type": "quantitative", "scale": {"domain": [-0.2, 479], "nice": false, "zero": false},
       "axis": {"values": [0,10,20,30,40,50,60,70,80,90,100,110,120,130,140,150,160,170,180,190,200,210,220,230,240,250,260,270,280,290,300,310,320,330,340,350,360,370,380,390,400,410,420,430,440,450,460,470], "grid": true, "gridColor": "#c8c8c8", "gridDash": [3,3], "domain": false, "ticks": true, "tickSize": 4, "tickColor": {"condition": {"test": "datum.value % 20 != 0", "value": "transparent"}, "value": "black"}, "labelAlign": "left", "labelBaseline": "top", "labelPadding": 2, "labelOverlap": false, "labelFlush": false, "labelBound": false, "title": null,
       "labelExpr": "datum.value % 20 == 0 ? ['2008.03.07','2008.12.29','2009.10.08','2010.07.08','2011.01.14','2011.06.15','2011.12.15','2012.05.31','2013.02.08','2013.07.18','2013.12.17','2014.05.20','2014.11.27','2015.06.15','2016.01.11','2016.07.13','2017.04.05','2018.01.03','2018.11.23','2019.12.20','2020.05.20','2020.10.28','2021.05.28','2022.02.28'][datum.value / 20] : ''"}},
 "y": {"field": "m", "type": "quantitative", "scale": {"domain": [0, 25], "nice": false},
       "axis": {"orient": "right", "values": [0, 25], "grid": false, "domain": false, "ticks": true, "tickSize": 4, "tickColor": "black", "labelPadding": 3, "title": null, "labelExpr": "format(datum.value, '.1f') + '%'", "labelBaseline": {"condition": {"test": "datum.value >= 25", "value": "top"}, "value": "middle"}, "labelOffset": {"condition": {"test": "datum.value >= 25", "value": 3}, "value": 0}}}
}
}
],
"spacing": 2,
"bounds": "flush",
"resolve": {"scale": {"x": "independent", "y": "independent", "color": "independent"}}
}
